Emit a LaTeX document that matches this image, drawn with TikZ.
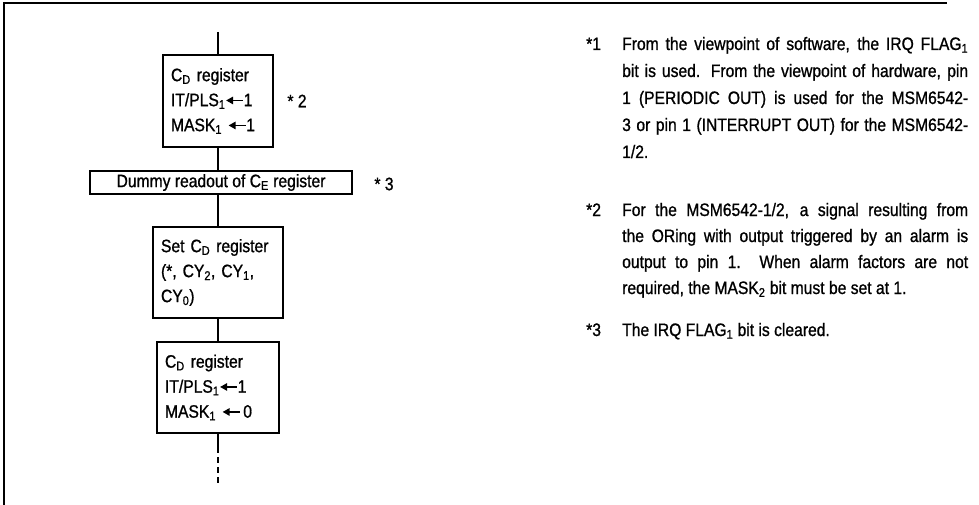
\documentclass[tikz,border=0pt]{standalone}
\usepackage{fontspec}
\setmainfont{Liberation Sans}[FakeStretch=0.87,FakeBold=1.0]
\usetikzlibrary{arrows.meta}
\newcommand{\larr}{\tikz[baseline=-0.6ex]\draw[line width=1.3pt,{Triangle[length=7pt,width=7.5pt]}-] (0,0)--(17pt,0);}
\newlength{\colw}\setlength{\colw}{346pt}
\newcommand{\jl}[1]{\makebox[\colw][s]{#1}}
\begin{document}
\begin{tikzpicture}[x=1pt,y=-1pt,
  every node/.style={font=\fontsize{18}{25}\selectfont, inner sep=0pt},
  box/.style={draw, line width=1.3pt, inner xsep=8pt, align=left},
  conn/.style={line width=1.3pt},
  frame/.style={line width=1.8pt},
  note/.style={anchor=base west}]
\useasboundingbox (0,0) rectangle (979,505);
% frame
\coordinate (fl) at (4,505);
\coordinate (ftl) at (4,3);
\coordinate (ftr) at (947,3);
\draw[frame] (fl) -- (ftl) -- (ftr);
% flow
\coordinate (start) at (218,32);
\node[box, text width=94pt, minimum height=92pt] (b1) at (218,101)
  {C\textsubscript{D} register\\IT/PLS\textsubscript{1}\larr1\\MASK\textsubscript{1} \larr1};
\node[box, minimum width=262pt, minimum height=23pt, align=center] (b2) at (221,182.5)
  {Dummy readout of C\textsubscript{E} register};
\node[box, text width=114pt, minimum height=91pt] (b3) at (218,272.5)
  {Set C\textsubscript{D} register\\(*, CY\textsubscript{2}, CY\textsubscript{1},\\CY\textsubscript{0})};
\node[box, text width=106pt, minimum height=91pt] (b4) at (218,387.5)
  {C\textsubscript{D} register\\IT/PLS\textsubscript{1}\larr1\\MASK\textsubscript{1} \larr\,0};
\node (n2) at (297,101) {* 2};
\node (n3) at (384,184) {* 3};
\coordinate (e1) at (218,447);
\coordinate (e2) at (218,484);
\draw[conn] (start) -- (b1.north);
\draw[conn] (b1.south) -- (b1.south |- b2.north);
\draw[conn] (b3.north |- b2.south) -- (b3.north);
\draw[conn] (b3.south) -- (b4.north);
\draw[conn] (b4.south) -- (e1);
\draw[conn, dash pattern=on 6pt off 4pt] (e1) -- (e2);
% notes
\node[note] (s1) at (586,50) {*1};
\node[note] (l11) at (622,50) {\jl{From the viewpoint of software, the IRQ FLAG\textsubscript{1}}};
\node[note] (l12) at (622,77) {\jl{bit is used. From the viewpoint of hardware, pin}};
\node[note] (l13) at (622,104) {\jl{1 (PERIODIC OUT) is used for the MSM6542-}};
\node[note] (l14) at (622,131) {\jl{3 or pin 1 (INTERRUPT OUT) for the MSM6542-}};
\node[note] (l15) at (622,158) {1/2.};
\node[note] (s2) at (586,216) {*2};
\node[note] (l21) at (622,216) {\jl{For the MSM6542-1/2, a signal resulting from}};
\node[note] (l22) at (622,242) {\jl{the ORing with output triggered by an alarm is}};
\node[note] (l23) at (622,268) {\jl{output to pin 1.\ \ When alarm factors are not}};
\node[note] (l24) at (622,294) {required, the MASK\textsubscript{2} bit must be set at 1.};
\node[note] (s3) at (586,336) {*3};
\node[note] (l31) at (622,336) {The IRQ FLAG\textsubscript{1} bit is cleared.};
\end{tikzpicture}
\end{document}
